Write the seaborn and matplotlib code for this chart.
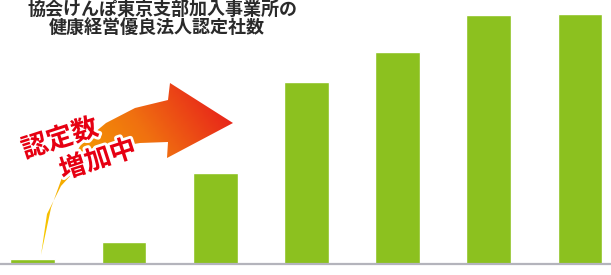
import numpy as np
import matplotlib
matplotlib.use("Agg")
import matplotlib.pyplot as plt
import matplotlib.patheffects as pe
from matplotlib.patches import Polygon
from matplotlib.colors import LinearSegmentedColormap
import seaborn as sns

# data (no axis given -> estimated counts)
years = ["2017", "2018", "2019", "2020", "2021", "2022", "2023"]
counts = [20, 90, 365, 730, 850, 995, 1000]
title_lines = ["協会けんぽ東京支部加入事業所の", "健康経営優良法人認定社数"]
badge_lines = ["認定数", "増加中"]

sns.set_style("white")
plt.rcParams["font.family"] = ["Noto Sans CJK JP", "DejaVu Sans"]

fig = plt.figure(figsize=(6.11, 2.75), dpi=100)
ax = fig.add_axes([0, 11 / 275, 1, 264 / 275])

sns.barplot(x=years, y=counts, color="#8cc11f", saturation=1, width=0.49, ax=ax)
ax.set_xlim(-0.36, 6.34)
ax.set_ylim(0, 1056)
ax.set_xlabel("")
ax.set_ylabel("")
ax.tick_params(length=0, labelbottom=False, labelleft=False)
for s in ["top", "left", "right"]:
    ax.spines[s].set_visible(False)
ax.spines["bottom"].set_color("#b4b4bc")
ax.spines["bottom"].set_linewidth(1.6)

# overlay for the decoration (pixel coords, y down)
deco = fig.add_axes([0, 0, 1, 1])
deco.set_xlim(0, 611)
deco.set_ylim(275, 0)
deco.axis("off")
deco.patch.set_alpha(0)

# swoosh arrow with gradient
arrow_pts = [(233, 123), (170, 83), (168, 100), (135, 108), (106, 123), (82, 143),
             (64, 172), (51, 208), (41, 255), (47, 214), (61, 186), (83, 162),
             (110, 148), (140, 143), (168, 142), (167, 158)]
arrow = Polygon(arrow_pts, closed=True, facecolor="none", edgecolor="none")
deco.add_patch(arrow)
gx, gy = np.meshgrid(np.linspace(0, 611, 300), np.linspace(0, 275, 150))
d = np.array([233 - 41, 123 - 255], dtype=float)
t = ((gx - 41) * d[0] + (gy - 255) * d[1]) / (d @ d)
cmap = LinearSegmentedColormap.from_list("swoosh", ["#f7d000", "#f5a000", "#f07010", "#e8261a"])
img = deco.imshow(np.clip(t, 0, 1), cmap=cmap, extent=[0, 611, 275, 0], aspect="auto",
                  vmin=0, vmax=1, zorder=2)
img.set_clip_path(arrow)

stroke = [pe.withStroke(linewidth=4, foreground="white")]
deco.text(60, 139, badge_lines[0], rotation=18, ha="center", va="center", color="#e60012",
          fontsize=19, fontweight="bold", path_effects=stroke, zorder=3)
deco.text(98, 160, badge_lines[1], rotation=18, ha="center", va="center", color="#e60012",
          fontsize=19, fontweight="bold", path_effects=stroke, zorder=3)

deco.text(163, 9, title_lines[0], ha="center", va="center", color="#2a2a2a",
          fontsize=13, fontweight="bold", zorder=3)
deco.text(157, 27, title_lines[1], ha="center", va="center", color="#2a2a2a",
          fontsize=13, fontweight="bold", zorder=3)

fig.savefig("out.png", dpi=100)
